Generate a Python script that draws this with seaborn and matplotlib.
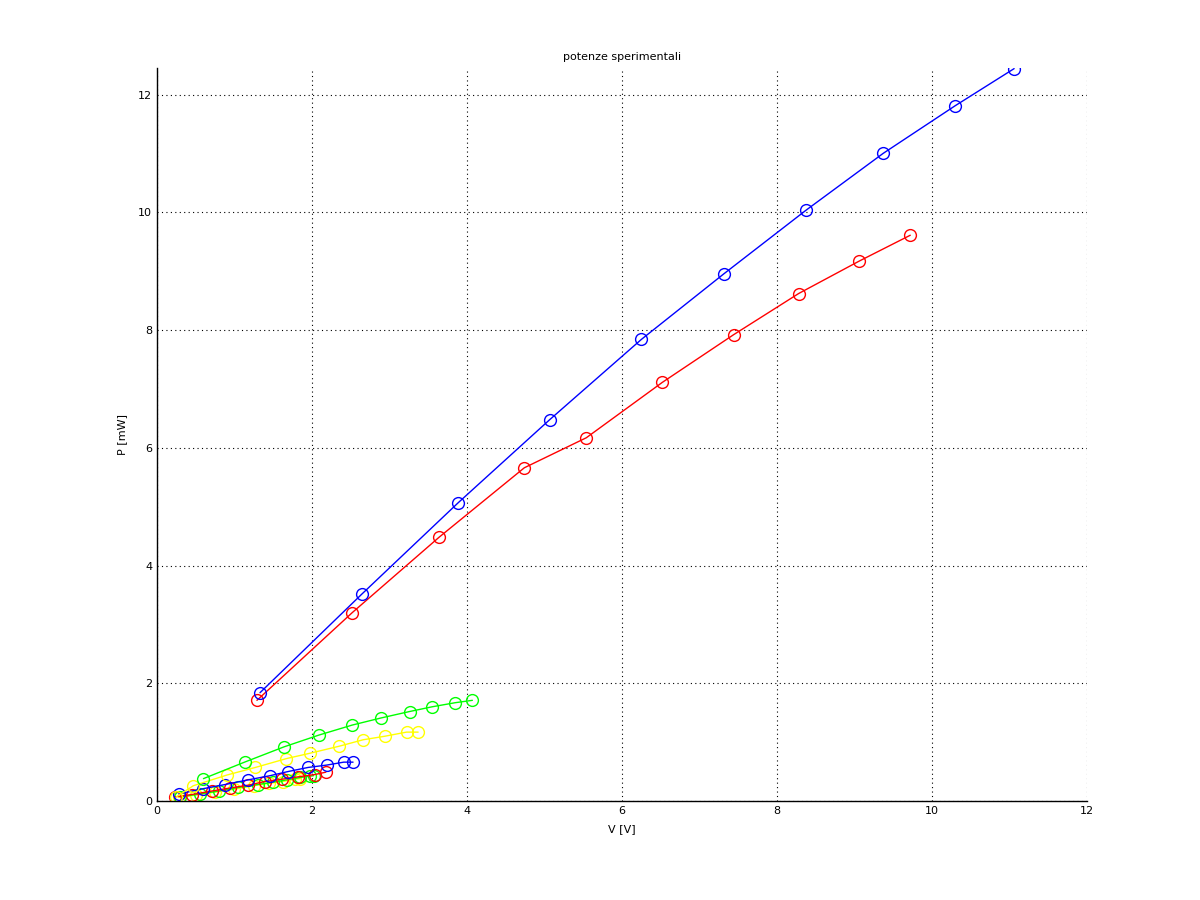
import matplotlib
matplotlib.use("Agg")
import matplotlib.pyplot as plt
import seaborn as sns
import pandas as pd

# big series
v_blue_big = [1.33, 2.64, 3.89, 5.07, 6.25, 7.32, 8.38, 9.37, 10.30, 11.06]
p_blue_big = [1.84, 3.51, 5.07, 6.48, 7.84, 8.96, 10.04, 11.00, 11.81, 12.44]
v_red_big = [1.29, 2.52, 3.64, 4.74, 5.54, 6.52, 7.44, 8.28, 9.06, 9.72]
p_red_big = [1.71, 3.20, 4.48, 5.66, 6.17, 7.11, 7.92, 8.62, 9.17, 9.61]

# small series
v_green = [0.60, 1.13, 1.64, 2.09, 2.52, 2.89, 3.26, 3.55, 3.85, 4.07]
p_green = [0.38, 0.66, 0.92, 1.12, 1.29, 1.41, 1.52, 1.60, 1.67, 1.71]
v_yellow = [0.25, 0.47, 0.90, 1.27, 1.67, 1.97, 2.35, 2.66, 2.94, 3.22, 3.37]
p_yellow = [0.07, 0.26, 0.44, 0.57, 0.72, 0.81, 0.93, 1.04, 1.10, 1.17, 1.17]
v_blue = [0.28, 0.60, 0.88, 1.18, 1.46, 1.69, 1.95, 2.19, 2.41, 2.53]
p_blue = [0.12, 0.21, 0.28, 0.36, 0.43, 0.50, 0.57, 0.61, 0.66, 0.66]
v_red = [0.23, 0.45, 0.71, 0.94, 1.18, 1.39, 1.61, 1.82, 2.04, 2.18]
p_red = [0.07, 0.11, 0.17, 0.22, 0.27, 0.33, 0.37, 0.41, 0.45, 0.49]
v_green2 = [0.30, 0.55, 0.80, 1.05, 1.30, 1.50, 1.68, 1.85, 1.97, 2.02]
p_green2 = [0.07, 0.12, 0.17, 0.23, 0.28, 0.32, 0.36, 0.40, 0.42, 0.43]
v_yellow2 = [0.28, 0.50, 0.75, 1.00, 1.25, 1.45, 1.62, 1.78, 1.85]
p_yellow2 = [0.06, 0.10, 0.15, 0.20, 0.26, 0.30, 0.33, 0.37, 0.38]

series = [
    (v_yellow2, p_yellow2, "#ffff00"),
    (v_green2, p_green2, "#00ff00"),
    (v_red, p_red, "#ff0000"),
    (v_blue, p_blue, "#0000ff"),
    (v_yellow, p_yellow, "#ffff00"),
    (v_green, p_green, "#00ff00"),
    (v_red_big, p_red_big, "#ff0000"),
    (v_blue_big, p_blue_big, "#0000ff"),
]

sns.set_style("white")
plt.rcParams["font.family"] = ["DejaVu Sans"]
plt.rcParams["text.color"] = "black"
plt.rcParams["axes.labelcolor"] = "black"

fig = plt.figure(figsize=(12, 9), dpi=100)
ax = fig.add_axes([0.1308, 0.11, 0.775, 0.8144])

for v, p, c in series:
    df = pd.DataFrame({"V": v, "P": p})
    sns.lineplot(data=df, x="V", y="P", ax=ax, color=c, linewidth=1,
                 marker="o", markersize=8.5, markerfacecolor="none",
                 markeredgecolor=c, markeredgewidth=1,
                 sort=False, estimator=None)

ax.set_xlim(0, 12)
ax.set_ylim(0, 12.45)
ax.set_xticks(range(0, 13, 2))
ax.set_yticks(range(0, 13, 2))
ax.grid(True, color="black", linestyle=(0, (1, 3)), linewidth=0.8)
ax.tick_params(direction="in", length=5, width=1, labelsize=8, colors="black")
for s in ["top", "right"]:
    ax.spines[s].set_visible(False)
for s in ["left", "bottom"]:
    ax.spines[s].set_color("black")
    ax.spines[s].set_linewidth(1)

ax.set_title("potenze sperimentali", fontsize=8, pad=6, color="black")
ax.set_xlabel("V [V]", fontsize=8, labelpad=6)
ax.set_ylabel("P [mW]", fontsize=8, labelpad=8)

fig.savefig("out.png", dpi=100)
